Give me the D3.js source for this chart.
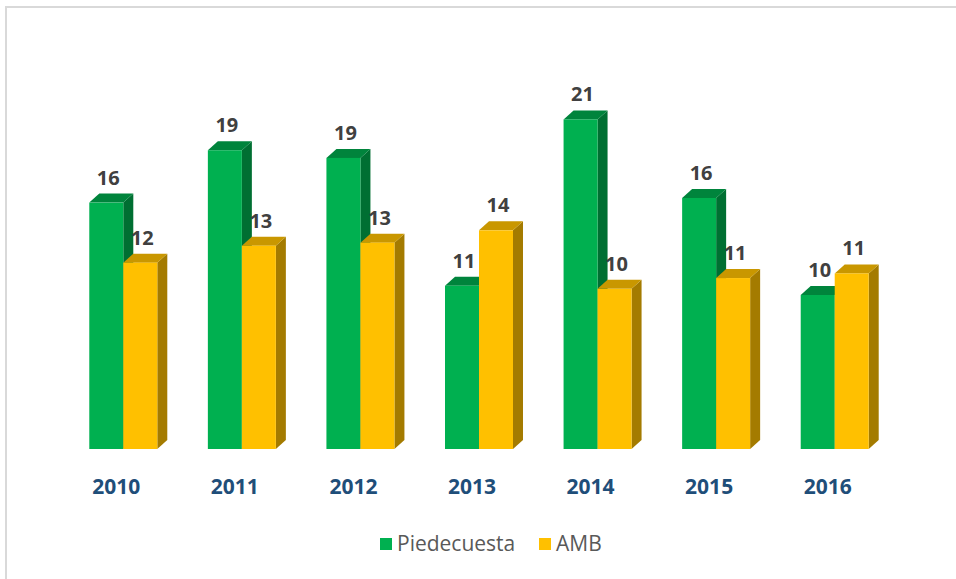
<!DOCTYPE html>
<html>
<head>
<meta charset="utf-8">
<script src="https://cdn.jsdelivr.net/npm/d3@7"></script>
<style>
    body { margin: 0; background: #fff; }
    .container { width: 956px; height: 579px; }
</style>
</head>
<body>
<div class="container"></div>
<script>
let width = 956;
let height = 579;

// data
const years = ['2010', '2011', '2012', '2013', '2014', '2015', '2016'];
const series = ['Piedecuesta', 'AMB'];
const piedecuesta = [16.0, 19.4, 18.9, 10.6, 21.4, 16.3, 10.0];
const amb = [12.1, 13.2, 13.4, 14.2, 10.4, 11.1, 11.4];

const colors = {
    Piedecuesta: {front: '#00B050', top: '#00843C', side: '#006F32'},
    AMB: {front: '#FFC000', top: '#C99700', side: '#A47B00'}
};

// 3d depth offset
const dx = 10;
const dy = -9;

const svg = d3.select('.container')
    .append('svg')
    .attr('width', width)
    .attr('height', height);

// chart frame
svg.append('rect')
    .attr('x', 6)
    .attr('y', 7)
    .attr('width', width + 10)
    .attr('height', height + 10)
    .attr('fill', 'none')
    .attr('stroke', '#D9D9D9')
    .attr('stroke-width', 2);

let x = d3.scaleBand()
    .domain(years)
    .range([64, 894])
    .paddingInner(0.4265)
    .paddingOuter(0.2133);

let x1 = d3.scaleBand()
    .domain(series)
    .range([0, x.bandwidth()]);

let y = d3.scaleLinear()
    .domain([0, 22])
    .range([449, 449 - 22 * 15.4]);

let data = years.map((yr, i) => ({
    year: yr,
    values: [
        {key: 'Piedecuesta', value: piedecuesta[i]},
        {key: 'AMB', value: amb[i]}
    ]
}));

let groups = svg.selectAll('g.year')
    .data(data)
    .enter()
    .append('g')
    .attr('class', 'year')
    .attr('transform', d => 'translate(' + x(d.year) + ',0)');

let bars = groups.selectAll('g.bar')
    .data(d => d.values)
    .enter()
    .append('g')
    .attr('class', 'bar');

function pts(arr) {
    return arr.map(p => p.join(',')).join(' ');
}

// side face
bars.append('polygon')
    .attr('fill', d => colors[d.key].side)
    .attr('points', d => {
        let x0 = x1(d.key) + x1.bandwidth();
        let yt = y(d.value);
        let yb = y(0);
        return pts([[x0, yt], [x0 + dx, yt + dy], [x0 + dx, yb + dy], [x0, yb]]);
    });

// top face
bars.append('polygon')
    .attr('fill', d => colors[d.key].top)
    .attr('points', d => {
        let x0 = x1(d.key);
        let w = x1.bandwidth();
        let yt = y(d.value);
        return pts([[x0, yt], [x0 + w, yt], [x0 + w + dx, yt + dy], [x0 + dx, yt + dy]]);
    });

// front face
bars.append('rect')
    .attr('x', d => x1(d.key))
    .attr('y', d => y(d.value))
    .attr('width', x1.bandwidth())
    .attr('height', d => y(0) - y(d.value))
    .attr('fill', d => colors[d.key].front);

// value labels
bars.append('text')
    .attr('x', d => x1(d.key) + x1.bandwidth() / 2 + 2)
    .attr('y', d => y(d.value) - 18)
    .attr('text-anchor', 'middle')
    .attr('font-family', 'Open Sans, sans-serif')
    .attr('font-weight', 700)
    .attr('font-size', 20)
    .attr('fill', '#404040')
    .text(d => Math.round(d.value));

// year labels
svg.selectAll('text.yearlabel')
    .data(years)
    .enter()
    .append('text')
    .attr('class', 'yearlabel')
    .attr('x', d => x(d) + x.bandwidth() / 2 - 7)
    .attr('y', 494)
    .attr('text-anchor', 'middle')
    .attr('font-family', 'Open Sans, sans-serif')
    .attr('font-weight', 700)
    .attr('font-size', 21)
    .attr('fill', '#1F4E79')
    .text(d => d);

// legend
let legendPos = [380, 539];
let legend = svg.selectAll('g.legend')
    .data(series)
    .enter()
    .append('g')
    .attr('class', 'legend')
    .attr('transform', (d, i) => 'translate(' + legendPos[i] + ',538)');

legend.append('rect')
    .attr('width', 12)
    .attr('height', 12)
    .attr('fill', d => colors[d].front);

legend.append('text')
    .attr('x', 17)
    .attr('y', 13)
    .attr('font-family', 'Open Sans, sans-serif')
    .attr('font-size', 21)
    .attr('fill', '#595959')
    .text(d => d);
</script>
</body>
</html>
